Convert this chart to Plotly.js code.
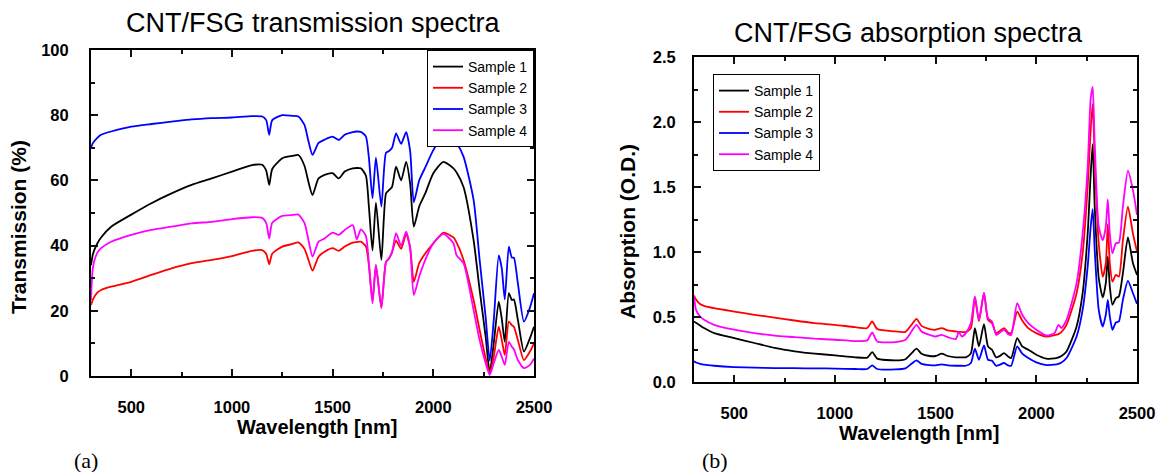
<!DOCTYPE html>
<html>
<head>
<meta charset="utf-8">
<script src="https://cdn.plot.ly/plotly-3.0.1.min.js"></script>
<style>html,body{margin:0;padding:0;background:#fff;}#chart{width:1162px;height:472px;}</style>
</head>
<body>
<div id="chart"></div>
<script>
// ---------- Data: transmission panel (a) ----------
const wlT = [300,310,330,350,400,500,600,700,800,900,1000,1100,1150,1170,1185,1200,1250,1300,1330,1360,1380,1400,1430,1460,1500,1530,1560,1600,1620,1640,1665,1680,1698,1715,1742,1765,1780,1795,1815,1840,1865,1885,1903,1930,1960,2000,2050,2100,2115,2150,2200,2230,2260,2280,2300,2325,2340,2355,2375,2390,2400,2420,2450,2480,2500];
const trans1 = [34,37.5,40.5,42.5,45.8,49.5,53,56,58.6,60.6,62.7,64.7,64.8,63,58.6,63.5,66.8,67.5,67.8,64.5,59.5,55.5,60.6,61.7,62.2,60.6,62.7,63.7,63.8,63.7,61.5,52,38.5,53.2,35.6,56,57,58,64.2,60,65.7,59,45.8,52,56,62.2,65.7,63.7,62.5,58,41.7,26.4,12,1,10,22.8,17.5,10.5,25.4,23.3,23.5,17.2,7.5,11.6,15.1];
const trans2 = [21.8,23.5,25.5,26.4,27.4,28.9,31,33,34.6,35.6,36.8,38.4,38.6,37.5,34.3,37.5,39.7,40.5,41,39,35.6,32.3,36.6,38.1,39.2,38.4,39.7,40.9,41.1,41.2,39.8,34,23,34,21,35,36,38,41.5,39,43.5,39.5,28.9,34.6,37.6,40.7,44,42.5,41,35.6,23.3,14.1,5.4,0.8,5.9,15.1,11,6.4,16.7,15.6,15.1,11,4.9,7.5,10];
const trans3 = [70,71.5,73,74,75,76.5,77.3,78,78.7,79.1,79.3,79.7,79.6,78.5,74,78.5,80,79.8,79.6,77,72,67.8,71.5,72.5,73.4,72.4,74,74.8,75,74.9,73.5,67,54.5,67,52,68.5,69,70,74.4,71.2,74.8,69,53.3,60,64,69.3,73.7,72.4,71.5,67.3,54,35.6,18,4.7,17,37,33,23.5,39.7,36.3,36.3,28.4,16.7,21,25.4];
const trans4 = [23.3,33.5,37.6,39.2,41.2,43.3,44.8,45.8,46.8,47.3,48.1,48.7,48.5,47,42.2,47,49.1,49.4,49.5,47,41.7,36.6,41.2,42.2,44,43.3,44.8,46.3,41.9,45,43,34.6,22.3,34,20.8,35,36.1,38,43.8,40,44.3,39,24.8,30.5,35.6,40.7,43.6,40.7,37.1,34.6,20.2,11,3.9,0.3,3.9,8,5.9,3.4,10.5,9,8.2,4.9,2.4,3.4,5.4];

// ---------- Data: absorption panel (b) ----------
const wlA = [300,310,330,350,400,500,600,700,800,900,1000,1100,1160,1185,1210,1300,1350,1380,1405,1430,1470,1500,1530,1560,1600,1615,1630,1650,1675,1695,1715,1740,1760,1780,1800,1815,1840,1860,1875,1905,1930,1960,2000,2050,2090,2110,2125,2150,2200,2230,2255,2270,2280,2290,2310,2330,2345,2355,2365,2378,2395,2410,2430,2455,2480,2500];
const abs1 = [0.466,0.455,0.435,0.415,0.376,0.338,0.30,0.262,0.236,0.218,0.205,0.19,0.187,0.23,0.18,0.166,0.175,0.22,0.256,0.218,0.2,0.2,0.218,0.2,0.19,0.19,0.19,0.19,0.22,0.415,0.274,0.445,0.274,0.248,0.19,0.197,0.222,0.197,0.184,0.338,0.274,0.248,0.21,0.18,0.182,0.19,0.2,0.235,0.427,0.683,1.14,1.6,1.83,1.35,0.8,0.65,0.76,0.965,0.734,0.594,0.645,0.658,0.837,1.113,0.913,0.824];
const abs2 = [0.665,0.635,0.6,0.586,0.568,0.542,0.517,0.496,0.473,0.453,0.44,0.422,0.415,0.466,0.407,0.389,0.386,0.44,0.486,0.432,0.407,0.402,0.415,0.397,0.389,0.386,0.385,0.384,0.415,0.65,0.466,0.683,0.478,0.453,0.376,0.389,0.415,0.38,0.376,0.542,0.473,0.415,0.376,0.35,0.36,0.368,0.385,0.44,0.683,0.99,1.5,1.94,2.14,1.71,1.067,0.81,0.913,1.215,0.913,0.773,0.824,0.81,1.09,1.349,1.14,1.003];
const abs3 = [0.159,0.15,0.14,0.133,0.125,0.115,0.11,0.107,0.106,0.105,0.103,0.1,0.1,0.128,0.1,0.097,0.105,0.14,0.166,0.14,0.13,0.128,0.136,0.128,0.125,0.125,0.125,0.125,0.146,0.256,0.171,0.281,0.171,0.164,0.125,0.13,0.146,0.128,0.125,0.274,0.218,0.184,0.151,0.13,0.133,0.14,0.15,0.184,0.35,0.555,0.888,1.195,1.33,1.016,0.555,0.427,0.517,0.632,0.504,0.402,0.458,0.466,0.632,0.778,0.683,0.601];
const abs4 = [0.658,0.555,0.504,0.478,0.44,0.402,0.376,0.356,0.345,0.333,0.325,0.315,0.32,0.381,0.312,0.307,0.325,0.389,0.44,0.389,0.363,0.35,0.363,0.345,0.33,0.385,0.35,0.376,0.453,0.658,0.478,0.688,0.491,0.466,0.363,0.375,0.402,0.368,0.362,0.606,0.517,0.453,0.402,0.358,0.376,0.44,0.415,0.478,0.76,1.14,1.656,2.18,2.27,1.835,1.195,1.09,1.195,1.405,1.14,0.99,1.067,1.072,1.35,1.625,1.476,1.285];

const names = ['Sample 1','Sample 2','Sample 3','Sample 4'];
const colors = ['#000000','#ff0000','#0000ff','#ff00ff'];
const transSeries = [trans1, trans2, trans3, trans4];
const absSeries = [abs1, abs2, abs3, abs4];

// ---------- Build traces ----------
const FONT = 'Arial, "Liberation Sans", sans-serif';
const traces = [];
transSeries.forEach((ys, i) => {
  traces.push({x: wlT, y: ys, name: names[i], type: 'scatter', mode: 'lines',
    line: {color: colors[i], width: 1.8, shape: 'spline', smoothing: 0.6},
    xaxis: 'x', yaxis: 'y', legend: 'legend'});
});
absSeries.forEach((ys, i) => {
  traces.push({x: wlA, y: ys, name: names[i], type: 'scatter', mode: 'lines',
    line: {color: colors[i], width: 1.8, shape: 'spline', smoothing: 0.6},
    xaxis: 'x2', yaxis: 'y2', legend: 'legend2'});
});

const W = 1162, H = 472;
const px = v => v / W, py = v => 1 - v / H;

const common = {showgrid: false, zeroline: false, showline: true, linecolor: '#000', linewidth: 2,
  mirror: 'ticks', ticks: 'inside', ticklen: 7, tickwidth: 2, tickcolor: '#111'};
const minorIn = {ticks: 'inside', ticklen: 4, tickwidth: 1.5, tickcolor: '#111'};
const legendFont = {family: FONT, size: 14, color: '#000', weight: 'normal'};
const serif = '"Liberation Serif", "Times New Roman", serif';

const layout = {
  width: W, height: H,
  margin: {l: 0, r: 0, t: 0, b: 0},
  font: {family: FONT, size: 16.5, color: '#000', weight: 'bold'},
  showlegend: true,
  xaxis: Object.assign({}, common, {domain: [px(91), px(534)], anchor: 'y', range: [300, 2500], dtick: 500, tick0: 0,
    ticklabelstandoff: 15, minor: Object.assign({dtick: 250}, minorIn)}),
  yaxis: Object.assign({}, common, {domain: [py(376), py(50)], anchor: 'x', range: [0, 100], dtick: 20,
    ticklabelstandoff: 17, minor: Object.assign({dtick: 10}, minorIn)}),
  xaxis2: Object.assign({}, common, {domain: [px(694), px(1137)], anchor: 'y2', range: [300, 2500], dtick: 500, tick0: 0,
    ticklabelstandoff: 15, minor: Object.assign({dtick: 250}, minorIn)}),
  yaxis2: Object.assign({}, common, {domain: [py(382), py(57)], anchor: 'x2', range: [0, 2.5], dtick: 0.5, tickformat: '.1f',
    ticklabelstandoff: 13, minor: Object.assign({dtick: 0.25}, minorIn)}),
  legend: {x: px(534), y: py(50), xanchor: 'right', yanchor: 'top', bgcolor: '#fff',
    bordercolor: '#000', borderwidth: 1, font: legendFont, tracegroupgap: 0},
  legend2: {x: px(713), y: py(74), xanchor: 'left', yanchor: 'top', bgcolor: '#fff',
    bordercolor: '#000', borderwidth: 1, font: legendFont, tracegroupgap: 0},
  annotations: [
    {text: 'CNT/FSG transmission spectra', x: px(313), y: py(23), xref: 'paper', yref: 'paper', showarrow: false,
      xanchor: 'center', yanchor: 'middle', font: {family: FONT, size: 27, color: '#000', weight: 'normal'}},
    {text: 'CNT/FSG absorption spectra', x: px(908), y: py(33), xref: 'paper', yref: 'paper', showarrow: false,
      xanchor: 'center', yanchor: 'middle', font: {family: FONT, size: 27, color: '#000', weight: 'normal'}},
    {text: 'Wavelength [nm]', x: px(317), y: py(427), xref: 'paper', yref: 'paper', showarrow: false,
      xanchor: 'center', yanchor: 'middle', font: {family: FONT, size: 20, color: '#000', weight: 'bold'}},
    {text: 'Wavelength [nm]', x: px(919), y: py(433), xref: 'paper', yref: 'paper', showarrow: false,
      xanchor: 'center', yanchor: 'middle', font: {family: FONT, size: 20, color: '#000', weight: 'bold'}},
    {text: 'Transmission (%)', x: px(19), y: py(227), xref: 'paper', yref: 'paper', showarrow: false, textangle: -90,
      xanchor: 'center', yanchor: 'middle', font: {family: FONT, size: 21, color: '#000', weight: 'bold'}},
    {text: 'Absorption (O.D.)', x: px(627), y: py(232), xref: 'paper', yref: 'paper', showarrow: false, textangle: -90,
      xanchor: 'center', yanchor: 'middle', font: {family: FONT, size: 21, color: '#000', weight: 'bold'}},
    {text: '(a)', x: px(86), y: py(460), xref: 'paper', yref: 'paper', showarrow: false,
      xanchor: 'center', yanchor: 'middle', font: {family: serif, size: 22, color: '#000', weight: 'normal'}},
    {text: '(b)', x: px(715), y: py(460), xref: 'paper', yref: 'paper', showarrow: false,
      xanchor: 'center', yanchor: 'middle', font: {family: serif, size: 22, color: '#000', weight: 'normal'}}
  ]
};

Plotly.newPlot('chart', traces, layout, {displayModeBar: false});
</script>
</body>
</html>
